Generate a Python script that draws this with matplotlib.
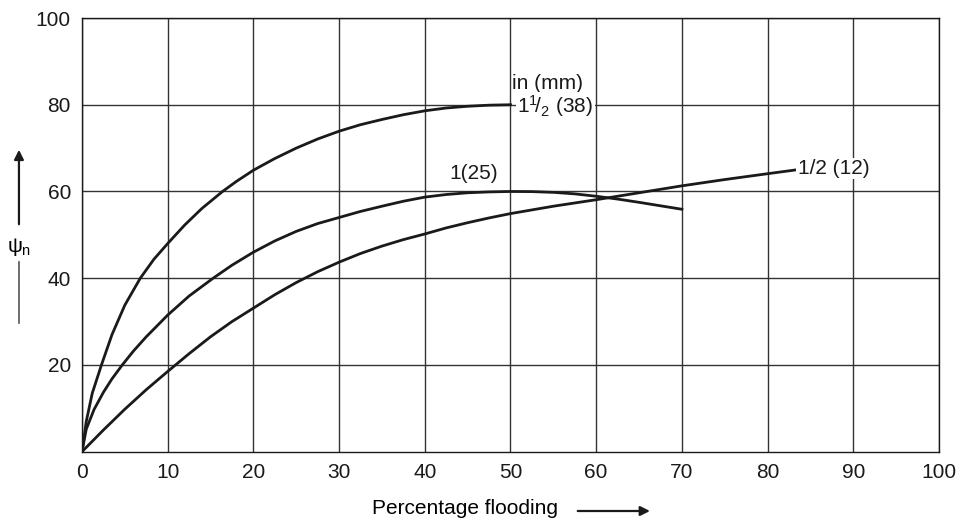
import matplotlib
matplotlib.use("Agg")
import matplotlib.pyplot as plt

plt.rcParams['font.family'] = ['Liberation Sans', 'DejaVu Sans']
plt.rcParams['mathtext.fontset'] = 'custom'
plt.rcParams['mathtext.rm'] = 'Liberation Sans'
plt.rcParams['mathtext.it'] = 'Liberation Sans'

# curve data (percentage flooding vs psi_n)
x_38 = [0, 0.5, 1.2, 2.27, 3.5, 5, 6.8, 8.4, 10, 12, 14, 16.4, 18, 20, 22.5, 25,
        27.5, 30, 32.5, 35, 37.5, 40, 42.5, 45, 47.5, 50]
y_38 = [0, 7, 13.5, 20, 27, 33.8, 40, 44.4, 48, 52.3, 56.1, 60, 62.3, 64.9, 67.6, 70.0,
        72.1, 73.9, 75.4, 76.6, 77.7, 78.6, 79.25, 79.65, 79.9, 80]

x_25 = [0, 0.5, 1.4, 2.5, 3.5, 4.7, 6, 7.5, 10, 12.5, 15.3, 17.5, 20, 22.5, 25, 27.5,
        30, 32.5, 35, 37.5, 40, 42.5, 45, 47.5, 50, 52.5, 55, 57.5, 60, 62.5, 65, 67.5, 70]
y_25 = [0, 5.2, 9.7, 13.7, 16.8, 20, 23.2, 26.5, 31.5, 35.9, 40, 43.0, 46, 48.6, 50.8, 52.6,
        54.0, 55.4, 56.6, 57.75, 58.7, 59.3, 59.7, 59.9, 60, 59.97, 59.8, 59.45, 58.9, 58.25,
        57.5, 56.7, 55.9]

x_12 = [0, 2.5, 5, 7.5, 10, 12.5, 15, 17.5, 20, 22.5, 25, 27.5, 30, 32.5, 35, 37.5,
        40, 42.5, 45, 47.5, 50, 55, 60, 65, 70, 75, 80, 83.4]
y_12 = [0, 5.0, 9.8, 14.3, 18.5, 22.6, 26.5, 30.0, 33.1, 36.2, 39.0, 41.5, 43.7, 45.7, 47.4, 48.9,
        50.2, 51.6, 52.8, 53.9, 54.9, 56.6, 58.1, 59.7, 61.3, 62.75, 64.1, 65.0]

x_ticks = [0, 10, 20, 30, 40, 50, 60, 70, 80, 90, 100]
y_ticks = [20, 40, 60, 80, 100]

fig = plt.figure(figsize=(9.67, 5.19), dpi=100)
ax = fig.add_axes([0.0848, 0.1297, 0.8862, 0.8356])

for xs, ys in [(x_38, y_38), (x_25, y_25), (x_12, y_12)]:
    ax.plot(xs, ys, color="#1a1a1a", lw=2.0, zorder=3, solid_joinstyle="round")

ax.set_xlim(0, 100)
ax.set_ylim(0, 100)
ax.set_xticks(x_ticks)
ax.set_yticks(y_ticks)
ax.tick_params(length=0, labelsize=15, pad=8, colors="#1a1a1a")
ax.grid(True, color="#333333", lw=1.0)
for s in ax.spines.values():
    s.set_color("#1a1a1a")
    s.set_linewidth(1.0)

fs = 15
ax.text(50.2, 84.9, "in (mm)", fontsize=fs, va="center", ha="left", color="#1a1a1a")
ax.text(50.8, 79.6, r"1$^1\!/_2$ (38)", fontsize=fs, va="center", ha="left", color="#1a1a1a",
        bbox=dict(fc="white", ec="none", pad=1), zorder=4)
ax.text(42.9, 64.1, "1(25)", fontsize=fs, va="center", ha="left", color="#1a1a1a")
ax.text(83.5, 65.3, "1/2 (12)", fontsize=fs, va="center", ha="left", color="#1a1a1a",
        bbox=dict(fc="white", ec="none", pad=1), zorder=4)

# y label with arrow
fig.text(0.0196, 0.524, r"$\psi_n$", fontsize=fs, ha="center", va="center")
fig.add_artist(matplotlib.patches.FancyArrowPatch((0.0196, 0.5626), (0.0196, 0.7168),
               transform=fig.transFigure, arrowstyle="-|>", mutation_scale=14,
               color="#1a1a1a", lw=1.6))
fig.add_artist(matplotlib.lines.Line2D([0.0196, 0.0196], [0.4952, 0.3776],
               transform=fig.transFigure, color="#555555", lw=1.2))

# x label with arrow
fig.text(0.481, 0.0193, "Percentage flooding", fontsize=fs, ha="center", va="center")
fig.add_artist(matplotlib.patches.FancyArrowPatch((0.5946, 0.0154), (0.675, 0.0154),
               transform=fig.transFigure, arrowstyle="-|>", mutation_scale=14,
               color="#1a1a1a", lw=1.6))

fig.savefig("out.png", dpi=100)
